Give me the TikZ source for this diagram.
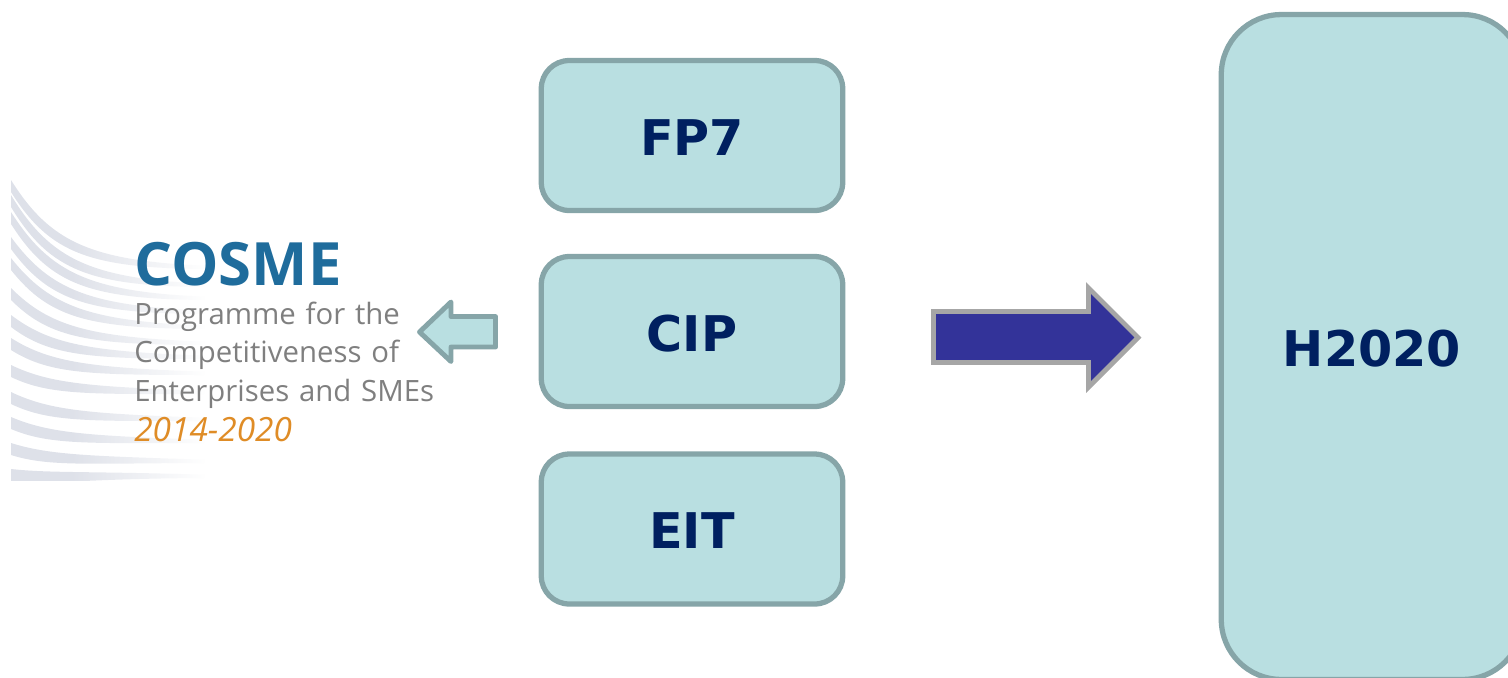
\documentclass[tikz,border=0pt]{standalone}
\usepackage{fontspec}
\setmainfont{DejaVu Sans}
\newfontfamily\logofont{Open Sans}
\usepackage{tikz}
\usetikzlibrary{positioning}
\usetikzlibrary{fadings}

\definecolor{BoxFill}{HTML}{B9DFE1}
\definecolor{BoxLine}{HTML}{86A5A8}
\definecolor{BoxText}{HTML}{002060}
\definecolor{BigArrow}{HTML}{333399}
\definecolor{BigArrowLine}{HTML}{A6A6A6}
\definecolor{LogoBlue}{HTML}{1F6C9C}
\definecolor{LogoGray}{HTML}{7F7F7F}
\definecolor{LogoOrange}{HTML}{DF8C26}
\definecolor{LogoBand}{HTML}{DEE1E9}

\tikzset{
    prog/.style={draw=BoxLine, fill=BoxFill, line width=3pt, rounded corners=0.56cm, outer sep=0pt,
        minimum width=6.03cm, minimum height=3cm, text=BoxText, text height=22.5pt, text depth=0pt,
        font=\fontsize{28}{28}\selectfont\bfseries},
    logoline/.style={inner sep=0pt, anchor=base west, align=left, font=\logofont\fontsize{16.7}{22.1}\selectfont}
}

\begin{document}
\begin{tikzpicture}[x=0.02cm, y=-0.02cm]

    \clip (0,0) rectangle (1508,677);

    % logo background
    \begin{scope}
        \clip (11,180) rectangle (300,480);
        \foreach \ya/\yb in {180/266, 195/284, 212/297, 237/311, 258/326, 288/342, 315/356, 338/372, 365/391, 392/418, 417/440, 443/460, 469/475}
            \fill [LogoBand]
                (11,\ya) .. controls (50,{\ya+0.72*(\yb-\ya)}) and (90,\yb-4) .. (215,\yb)
                -- (215,\yb+3) .. controls (90,\yb+3) and (50,{\ya+0.72*(\yb-\ya)+12}) .. (11,\ya+12) -- cycle;
        \fill [white, path fading=west] (70,170) rectangle (205,490);
        \fill [white] (205,170) rectangle (225,490);
    \end{scope}

    \node [prog] (fp7) at (692,135.5) {FP7};
    \node [prog] (cip) at (692,331.5) {CIP};
    \node [prog] (eit) at (692,529) {EIT};
    \node [prog, minimum height=13.3cm, rounded corners=1.2cm] (h2020) at (1372,347) {H2020};

    \node [logoline, text=LogoBlue, font=\logofont\fontsize{34}{34}\selectfont\bfseries] (cosme) at (134,285.5) {COSME};
    \node [logoline, text=LogoGray, text width=9cm] (programme) at (134,324) {Programme for the\\Competitiveness of\\Enterprises and SMEs};
    \node [logoline, text=LogoOrange, font=\logofont\fontsize{19}{22.1}\selectfont\itshape] (years) at (134,441) {2014-2020};

    % block arrows
    \draw [draw=BoxLine, fill=BoxFill, line width=2.8pt, line join=round]
        (495.5,316.5) -- (495.5,347) -- (451,347) -- (451,361.5) -- (419.5,332) -- (451,302) -- (451,316.5) -- cycle;
    \draw [draw=BigArrowLine, fill=BigArrow, line width=2.8pt, line join=miter]
        (933.5,311.5) -- (1088.5,311.5) -- (1088.5,288) -- (1138,337.5) -- (1088.5,387) -- (1088.5,362.5) -- (933.5,362.5) -- cycle;

\end{tikzpicture}
\end{document}
